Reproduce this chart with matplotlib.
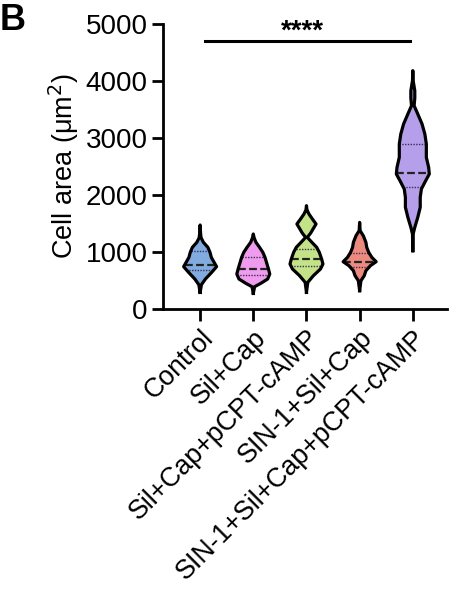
import matplotlib
matplotlib.use("Agg")
import matplotlib.pyplot as plt
import numpy as np

plt.rcParams['font.family'] = ['Liberation Sans', 'DejaVu Sans']

groups = ['Control', 'Sil+Cap', 'Sil+Cap+pCPT-cAMP', 'SIN-1+Sil+Cap', 'SIN-1+Sil+Cap+pCPT-cAMP']
colors = ['#82ABE0', '#EF9CEE', '#C4E389', '#EC8A80', '#B59EEA']

# violin outlines: cell area values and relative half-widths
ctrl_y = [292, 427, 526, 643, 743, 819, 906, 994, 1082, 1170, 1250, 1316, 1474]
ctrl_w = [0.0, 0.08, 0.32, 0.70, 1.0, 0.85, 0.68, 0.60, 0.47, 0.20, 0.06, 0.03, 0.0]
silcap_y = [275, 392, 450, 526, 614, 702, 819, 906, 994, 1082, 1170, 1250, 1316]
silcap_w = [0.0, 0.08, 0.45, 0.87, 1.0, 0.92, 0.80, 0.71, 0.58, 0.38, 0.16, 0.05, 0.0]
pcpt_y = [292, 468, 585, 702, 789, 877, 994, 1082, 1170, 1257, 1330, 1404, 1491, 1579, 1667, 1740, 1813]
pcpt_w = [0.0, 0.08, 0.42, 0.85, 1.0, 0.92, 0.78, 0.62, 0.33, 0.05, 0.25, 0.40, 0.58, 0.36, 0.15, 0.03, 0.0]
sin_y = [322, 497, 585, 672, 760, 830, 906, 994, 1082, 1170, 1287, 1374, 1520]
sin_w = [0.0, 0.08, 0.28, 0.38, 0.65, 1.0, 0.74, 0.55, 0.43, 0.38, 0.22, 0.03, 0.0]
sinp_y = [1023, 1316, 1433, 1608, 1784, 1959, 2105, 2251, 2368, 2485, 2661, 2895, 3070, 3246, 3421, 3567, 3700, 3830, 4006, 4181]
sinp_w = [0.0, 0.02, 0.12, 0.30, 0.45, 0.45, 0.52, 0.78, 1.0, 0.96, 0.82, 0.82, 0.73, 0.56, 0.30, 0.08, 0.12, 0.12, 0.02, 0.0]

profiles = [(ctrl_y, ctrl_w), (silcap_y, silcap_w), (pcpt_y, pcpt_w), (sin_y, sin_w), (sinp_y, sinp_w)]
medians = [770, 710, 880, 830, 2390]
q1 = [690, 600, 750, 745, 2140]
q3 = [1010, 910, 1060, 975, 2900]

fig = plt.figure(figsize=(4.5, 5.92), dpi=100)
ax = fig.add_axes([0.362, 0.478, 0.631, 0.4815])

half = 0.31
for i, (yy, ww) in enumerate(profiles):
    yy = np.array(yy, dtype=float)
    ww = np.array(ww) * half
    ax.fill_betweenx(yy, i - ww, i + ww, facecolor=colors[i], edgecolor='none', zorder=2)
    ax.plot(np.concatenate([i - ww, (i + ww)[::-1]]), np.concatenate([yy, yy[::-1]]),
            color='black', lw=2.3, solid_joinstyle='round', zorder=4)
    for val, ls, lw, c in [(medians[i], (0, (3.5, 1.5)), 1.6, '#222222'),
                           (q1[i], (0, (1, 1)), 1.0, '#3a2f55'),
                           (q3[i], (0, (1, 1)), 1.0, '#3a2f55')]:
        w = np.interp(val, yy, ww)
        ax.plot([i - w, i + w], [val, val], color=c, lw=lw, linestyle=ls, zorder=3)

# significance bar
ax.plot([0.1, 3.94], [4700, 4700], color='black', lw=2.2, clip_on=False)
ax.text(1.92, 4860, '****', ha='center', va='center', fontsize=20, fontweight='bold')

ax.set_xlim(-0.7, 4.64)
ax.set_ylim(0, 5000)
ax.set_yticks([0, 1000, 2000, 3000, 4000, 5000])
ax.set_xticks(range(len(groups)))
ax.set_xticklabels(groups, rotation=45, ha='right', rotation_mode='anchor', fontsize=19.3)
ax.tick_params(axis='y', labelsize=20, width=2, length=8, pad=3)
ax.tick_params(axis='x', width=2, length=8.5, pad=3)
for s in ['top', 'right']:
    ax.spines[s].set_visible(False)
for s in ['left', 'bottom']:
    ax.spines[s].set_linewidth(2)
ax.set_ylabel('Cell area (μm$^2$)', fontsize=19.5, labelpad=3)

fig.text(0.0, 0.995, 'B', fontsize=26, fontweight='bold', ha='left', va='top')

fig.savefig('out.png', dpi=100)
